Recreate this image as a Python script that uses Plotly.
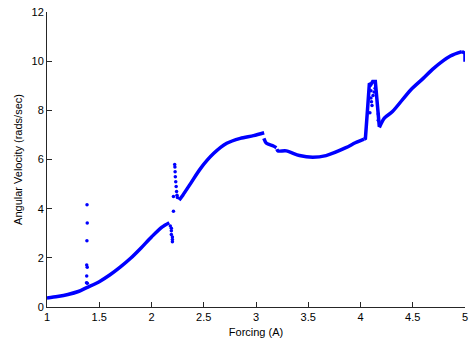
import plotly.graph_objects as go

# Branches (Forcing A vs angular velocity)
branch1_x = [1.0, 1.1, 1.2, 1.3, 1.38, 1.5, 1.6, 1.7, 1.8, 1.9, 2.0, 2.1, 2.17]
branch1_y = [0.37, 0.43, 0.51, 0.63, 0.79, 1.03, 1.30, 1.62, 1.98, 2.40, 2.85, 3.25, 3.43]

branch2_x = [2.264, 2.30, 2.375, 2.47, 2.596, 2.72, 2.85, 2.976, 3.078]
branch2_y = [4.35, 4.55, 5.03, 5.64, 6.25, 6.66, 6.86, 6.97, 7.09]

branch3a_x = [3.075, 3.10, 3.166, 3.195]
branch3a_y = [6.86, 6.66, 6.55, 6.48]

branch3b_x = [3.20, 3.21, 3.29, 3.416, 3.543, 3.67, 3.86, 3.95, 4.034]
branch3b_y = [6.42, 6.35, 6.35, 6.16, 6.09, 6.16, 6.48, 6.68, 6.83]

hump_x = [4.034, 4.047, 4.07, 4.085, 4.10, 4.117, 4.142, 4.164, 4.18]
hump_y = [6.83, 6.86, 8.20, 9.10, 9.05, 9.17, 9.17, 8.29, 7.34]

branch4_x = [4.18, 4.228, 4.306, 4.48, 4.60, 4.70, 4.86, 4.97]
branch4_y = [7.30, 7.68, 7.95, 8.83, 9.30, 9.71, 10.21, 10.39]

end_x = [4.97, 5.0, 5.0]
end_y = [10.39, 10.32, 9.98]

# Scattered transient points
scatter_x = [1.383, 1.385, 1.382, 1.380, 1.385, 1.380, 1.378, 1.386,
             2.18, 2.19, 2.19, 2.20, 2.20, 2.20, 2.19, 2.21, 2.21,
             2.222, 2.224, 2.226, 2.228, 2.232, 2.236, 2.24, 2.244, 2.248,
             4.10, 4.10, 4.11, 4.12, 4.09, 4.14, 4.17, 4.17, 4.105, 4.13]
scatter_y = [4.16, 3.42, 2.70, 1.71, 1.62, 1.26, 0.99, 0.97,
             3.30, 3.10, 2.95, 2.85, 2.75, 2.65, 3.20, 3.90, 4.49,
             5.80, 5.70, 5.50, 5.30, 5.10, 4.90, 4.70, 4.55, 4.45,
             8.80, 8.50, 8.20, 8.60, 7.90, 8.90, 7.60, 7.85, 8.35, 8.75]

x_ticks = [1, 1.5, 2, 2.5, 3, 3.5, 4, 4.5, 5]
y_ticks = [0, 2, 4, 6, 8, 10, 12]

BLUE = "#0000FF"
fig = go.Figure()
for bx, by, shape in [(branch1_x, branch1_y, "spline"), (branch2_x, branch2_y, "spline"),
                      (branch3a_x, branch3a_y, "spline"), (branch3b_x, branch3b_y, "spline"),
                      (hump_x, hump_y, "linear"), (branch4_x, branch4_y, "spline"),
                      (end_x, end_y, "linear")]:
    fig.add_trace(go.Scatter(x=bx, y=by, mode="lines",
                             line=dict(color=BLUE, width=3.5, shape=shape, smoothing=0.8),
                             showlegend=False))
fig.add_trace(go.Scatter(x=scatter_x, y=scatter_y, mode="markers",
                         marker=dict(color=BLUE, size=3.5, line=dict(width=0)),
                         showlegend=False))

axis_common = dict(showgrid=False, zeroline=False, showline=True, linecolor="#262626",
                   linewidth=1, ticks="inside", ticklen=5, tickcolor="#262626",
                   mirror=False, tickfont=dict(family="Liberation Sans, Arial", size=11, color="black"))
fig.update_layout(
    width=473, height=345,
    margin=dict(l=47, r=5, t=12, b=38),
    paper_bgcolor="white", plot_bgcolor="white",
    font=dict(family="Liberation Sans, Arial", size=11, color="black"),
    xaxis=dict(range=[1, 5], tickvals=x_ticks, ticktext=[f"{v:g}" for v in x_ticks],
               title=dict(text="Forcing (A)", standoff=6, font=dict(size=11)), **axis_common),
    yaxis=dict(range=[0, 12], tickvals=y_ticks, ticktext=[str(v) for v in y_ticks],
               title=dict(text="Angular Velocity (rads/sec)", standoff=6, font=dict(size=11)), **axis_common),
)
fig.write_html("out.html")
